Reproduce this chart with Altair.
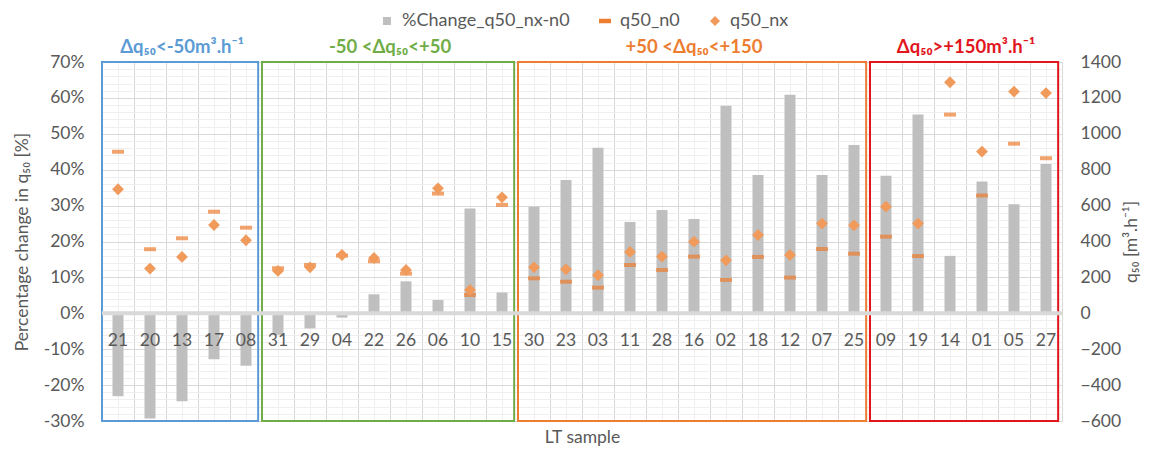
import altair as alt
import pandas as pd

samples = ["21","20","13","17","08","31","29","04","22","26","06","10","15",
           "30","23","03","11","28","16","02","18","12","07","25",
           "09","19","14","01","05","27"]
pct_change = [-23.1,-29.3,-24.5,-12.8,-14.6,-6.0,-4.2,-1.2,5.3,8.9,3.7,29.2,5.8,
              29.7,37.1,46.1,25.4,28.8,26.3,57.8,38.5,60.9,38.5,46.9,
              38.3,55.4,16.0,36.7,30.4,41.6]
q50_n0 = [900,357,418,566,477,251,269,321,290,221,667,102,604,
          195,176,143,269,241,316,186,314,199,358,332,
          427,319,1107,656,945,864]
q50_nx = [691,249,314,492,407,236,256,325,308,241,696,130,646,
          256,245,212,342,316,399,295,436,325,500,490,
          594,500,1287,901,1235,1227]

group_labels = ["Δq₅₀<-50m³.h⁻¹", "-50 <Δq₅₀<+50", "+50 <Δq₅₀<+150", "Δq₅₀>+150m³.h⁻¹"]
group_sizes = [5, 8, 11, 6]
group_colors = ["#5b9bd5", "#70ad47", "#ed7d31", "#e0161c"]
series_names = ["%Change_q50_nx-n0", "q50_n0", "q50_nx"]

GRAY_BAR = "#bfbfbf"
DASH = "#ed7d31"
DIAM = "#f09a5c"
TXT = "#595959"
FONT = "Lato"

df = pd.DataFrame({"sample": samples, "pct": pct_change, "n0": q50_n0, "nx": q50_nx})

starts, ends = [], []
acc = 0
for s in group_sizes:
    starts.append(acc)
    acc += s
    ends.append(acc)
groups = pd.DataFrame({"label": group_labels, "start": starts, "end": ends, "color": group_colors})

PCT_DOM = [-30, 70]
Q_DOM = [-600, 1400]
N = len(samples)

xq_scale = alt.Scale(domain=[0, N], nice=False, zero=False)
xb_scale = alt.Scale(paddingInner=0, paddingOuter=0)
pct_scale = alt.Scale(domain=PCT_DOM, nice=False, zero=False)
q_scale = alt.Scale(domain=Q_DOM, nice=False, zero=False)

# boxes layer also carries grid + left axis
boxes = alt.Chart(groups).transform_calculate(
    end_in="datum.end - 0.12", ylo="-30", yhi="70"
).mark_rect(filled=False, strokeWidth=2).encode(
    x=alt.X("start:Q", scale=xq_scale,
            axis=alt.Axis(orient="top", values=[i * 0.5 for i in range(2 * N + 1)],
                          grid=True, labels=False, ticks=False, domain=False, title=None,
                          gridColor={"condition": {"test": "datum.value % 1 === 0", "value": "#d9d9d9"},
                                     "value": "#efefef"},
                          gridWidth=1)),
    x2="end_in:Q",
    y=alt.Y("ylo:Q", scale=pct_scale,
            axis=alt.Axis(orient="left", values=list(range(-30, 71, 2)), grid=True,
                          gridColor={"condition": {"test": "datum.value % 10 === 0", "value": "#d9d9d9"},
                                     "value": "#efefef"},
                          labelExpr="datum.value % 10 === 0 ? datum.value + '%' : ''",
                          ticks=False, domain=False, labelPadding=18, labelFontSize=17.5,
                          labelColor=TXT, labelFont=FONT,
                          title="Percentage change in q₅₀ [%]", titleFontSize=17.5,
                          titleFontWeight="normal", titleColor=TXT, titleFont=FONT,
                          titlePadding=12)),
    y2="yhi:Q",
    stroke=alt.Stroke("color:N", scale=None),
)

bars = alt.Chart(df).mark_bar(size=11, color=GRAY_BAR).encode(
    x=alt.X("sample:N", sort=samples, scale=xb_scale,
            axis=alt.Axis(orient="bottom", offset=-108, labelAngle=0, ticks=False, domain=False,
                          grid=False, labelPadding=18, labelFontSize=17.5, labelColor=TXT,
                          labelFont=FONT, title="LT sample", titleFontSize=17.5,
                          titleFontWeight="normal", titleColor=TXT, titleFont=FONT,
                          titlePadding=80, zindex=1)),
    y=alt.Y("pct:Q", scale=pct_scale, axis=None),
)

zero_line = alt.Chart(pd.DataFrame({"z": [0]})).mark_rule(color="#d9d9d9", strokeWidth=4).encode(
    y=alt.Y("z:Q", scale=pct_scale, axis=None)
)

dashes = alt.Chart(df).mark_tick(color=DASH, thickness=4, size=12).encode(
    x=alt.X("sample:N", sort=samples, scale=xb_scale, axis=None),
    y=alt.Y("n0:Q", scale=q_scale,
            axis=alt.Axis(orient="right", values=list(range(-600, 1401, 200)), grid=False,
                          format="d",
                          ticks=False, domain=False, labelPadding=18, labelFontSize=17.5,
                          labelColor=TXT, labelFont=FONT,
                          title="q₅₀ [m³.h⁻¹]", titleAngle=270, titleFontSize=17.5,
                          titleFontWeight="normal", titleColor=TXT, titleFont=FONT,
                          titlePadding=20)),
)

diamonds = alt.Chart(df).mark_point(shape="diamond", filled=True, size=140, color=DIAM, opacity=1).encode(
    x=alt.X("sample:N", sort=samples, scale=xb_scale, axis=None),
    y=alt.Y("nx:Q", scale=q_scale, axis=None),
)

titles = alt.Chart(groups).transform_calculate(
    mid="(datum.start + datum.end) / 2", ytop="70"
).mark_text(fontSize=18.5, fontWeight="bold", font=FONT, baseline="middle", dy=-15).encode(
    x=alt.X("mid:Q", scale=xq_scale, axis=None),
    y=alt.Y("ytop:Q", scale=pct_scale, axis=None),
    text="label:N",
    color=alt.Color("color:N", scale=None),
)

legend_opts = dict(orient="none", legendX=276, legendY=-50, direction="horizontal",
                   title=None, labelFontSize=18, labelColor=TXT, labelFont=FONT,
                   labelLimit=400,
                   symbolOpacity=1, symbolSize=100, columnPadding=26,
                   labelOffset=6, symbolStrokeWidth=0)

legend_layer = alt.Chart(pd.DataFrame({"series": series_names})).mark_point(filled=True, opacity=0).encode(
    x=alt.value(0), y=alt.value(0),
    color=alt.Color("series:N", scale=alt.Scale(domain=series_names, range=[GRAY_BAR, DASH, DIAM]),
                    legend=alt.Legend(**legend_opts)),
    shape=alt.Shape("series:N", scale=alt.Scale(domain=series_names,
                                                range=["M-0.8,-0.8H0.8V0.8H-0.8Z",
                                                       "M-1.2,-0.45H1.2V0.45H-1.2Z",
                                                       "diamond"]),
                    legend=alt.Legend(**legend_opts)),
)

chart = alt.layer(boxes, bars, zero_line, dashes, diamonds, titles, legend_layer).resolve_scale(
    x="independent", y="independent", color="independent", stroke="independent",
    shape="independent"
).properties(
    width=960, height=359,
    autosize=alt.AutoSizeParams(type="none"),
    padding={"left": 94, "top": 54, "right": 92, "bottom": 25},
    background="white",
).configure_view(stroke=None)

chart.save("out.html", embed_options={"renderer": "svg", "actions": False})
